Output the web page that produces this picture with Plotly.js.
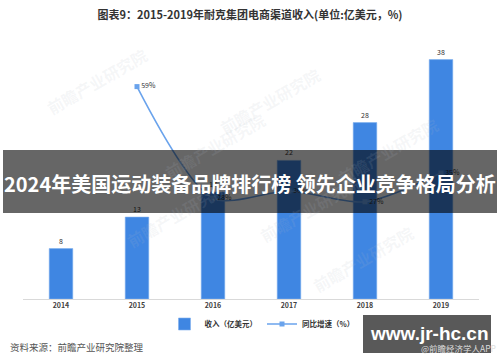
<!DOCTYPE html>
<html>
<head>
<meta charset="utf-8">
<script src="https://cdn.plot.ly/plotly-3.0.1.min.js"></script>
<style>
  html, body { margin: 0; padding: 0; background: #ffffff; }
  #chart { width: 500px; height: 362px; }
</style>
</head>
<body>
<div id="chart"></div>
<script>
// Nike group e-commerce channel revenue (100M USD) and YoY growth (%)
const years = ['2014', '2015', '2016', '2017', '2018', '2019'];
const revenue = [8, 13, 17, 22, 28, 38];
const growth = [null, 59, 28, 30, 27, 35];
const growthLabels = ['', '59%', '28%', '30%', '27%', '35%'];

const CJK = '"Noto Sans CJK SC", "Noto Sans", sans-serif';

// helpers: pixel position -> paper coords of the plot area
const L = 23, R = 479, T = 47, B = 299;
const px = x => (x - L) / (R - L);
const py = y => (B - y) / (B - T);

const bars = {
  type: 'bar',
  name: '收入（亿美元）',
  x: years,
  y: revenue,
  width: 0.31,
  marker: { color: '#3f86e2', line: { color: '#7fb0ee', width: 0.6 } },
  text: revenue.map(String),
  textposition: 'outside',
  textfont: { family: CJK, size: 7, color: '#333333' },
  cliponaxis: false,
  hoverinfo: 'skip'
};

const line = {
  type: 'scatter',
  mode: 'lines+markers+text',
  name: '同比增速（%）',
  x: years,
  y: growth,
  yaxis: 'y2',
  line: { color: '#6aa3ec', width: 1.6, shape: 'spline', smoothing: 0.8 },
  marker: { symbol: 'square', size: 5, color: '#6aa3ec' },
  text: growthLabels,
  textposition: 'middle right',
  textfont: { family: CJK, size: 7, color: '#333333' },
  cliponaxis: false,
  connectgaps: false,
  hoverinfo: 'skip'
};

// faint brand watermarks in the plot background
const marks = [
  [215, 105], [445, 110], [40, 40], [120, 255], [310, 250], [420, 300], [270, 60]
].map(([x, y]) => ({
  xref: 'paper', yref: 'paper', x: px(x), y: py(y),
  text: '前瞻产业研究院', showarrow: false, textangle: -30,
  font: { family: CJK, size: 16, color: 'rgba(175,186,198,0.13)', weight: 'bold' }
}));

const layout = {
  width: 500,
  height: 362,
  margin: { l: L, r: 500 - R, t: T, b: 362 - B },
  paper_bgcolor: '#ffffff',
  plot_bgcolor: '#ffffff',
  bargap: 0.69,
  showlegend: true,
  legend: {
    orientation: 'h',
    x: px(262), xanchor: 'center',
    y: py(324), yanchor: 'middle',
    font: { family: CJK, size: 7.5, color: '#333333', weight: 'bold' },
    itemwidth: 30,
    bgcolor: 'rgba(0,0,0,0)'
  },
  title: {
    text: '图表9：2015-2019年耐克集团电商渠道收入(单位:亿美元，%)',
    x: 0.5, xanchor: 'center', y: 1 - 15 / 362, yanchor: 'middle',
    font: { family: CJK, size: 11, color: '#333333', weight: 'bold' }
  },
  xaxis: {
    type: 'category',
    showline: true, linecolor: '#d9d9d9', linewidth: 1,
    showgrid: false, zeroline: false, ticks: '',
    tickfont: { family: CJK, size: 7, color: '#404040', weight: 'bold' },
    fixedrange: true
  },
  yaxis: {
    range: [0, 40], visible: false, showgrid: false, zeroline: false, fixedrange: true
  },
  yaxis2: {
    range: [0, 70], overlaying: 'y', side: 'right',
    visible: false, showgrid: false, zeroline: false, fixedrange: true
  },
  shapes: [
    // headline banner across the chart
    {
      type: 'rect', xref: 'paper', yref: 'paper', layer: 'above',
      x0: px(3), x1: px(497), y0: py(213), y1: py(150),
      fillcolor: 'rgba(0,0,0,0.6)', line: { width: 0 }
    },
    // site badge, bottom right
    {
      type: 'rect', xref: 'paper', yref: 'paper', layer: 'above',
      x0: px(363), x1: px(491), y0: py(353), y1: py(315),
      fillcolor: 'rgba(0,0,0,0.65)', line: { width: 0 }
    }
  ],
  annotations: marks.concat([
    {
      xref: 'paper', yref: 'paper', x: px(250), y: py(183),
      text: '2024年美国运动装备品牌排行榜 领先企业竞争格局分析',
      showarrow: false, xanchor: 'center', yanchor: 'middle',
      font: { family: CJK, size: 20, color: '#ffffff', weight: 'bold' }
    },
    {
      xref: 'paper', yref: 'paper', x: px(8), y: py(347),
      text: '资料来源：前瞻产业研究院整理',
      showarrow: false, xanchor: 'left', yanchor: 'middle',
      font: { family: CJK, size: 9.5, color: '#555555' }
    },
    {
      xref: 'paper', yref: 'paper', x: px(429), y: py(333),
      text: 'www.jr-hc.cn',
      showarrow: false, xanchor: 'center', yanchor: 'middle',
      font: { family: '"Liberation Sans", Arial, sans-serif', size: 19, color: '#ffffff', weight: 'bold' }
    },
    {
      xref: 'paper', yref: 'paper', x: px(498), y: py(348),
      text: '@前瞻经济学人APP',
      showarrow: false, xanchor: 'right', yanchor: 'middle',
      font: { family: CJK, size: 8.5, color: '#dddddd' }
    }
  ])
};

Plotly.newPlot('chart', [bars, line], layout, { displayModeBar: false, staticPlot: true });
</script>
</body>
</html>
